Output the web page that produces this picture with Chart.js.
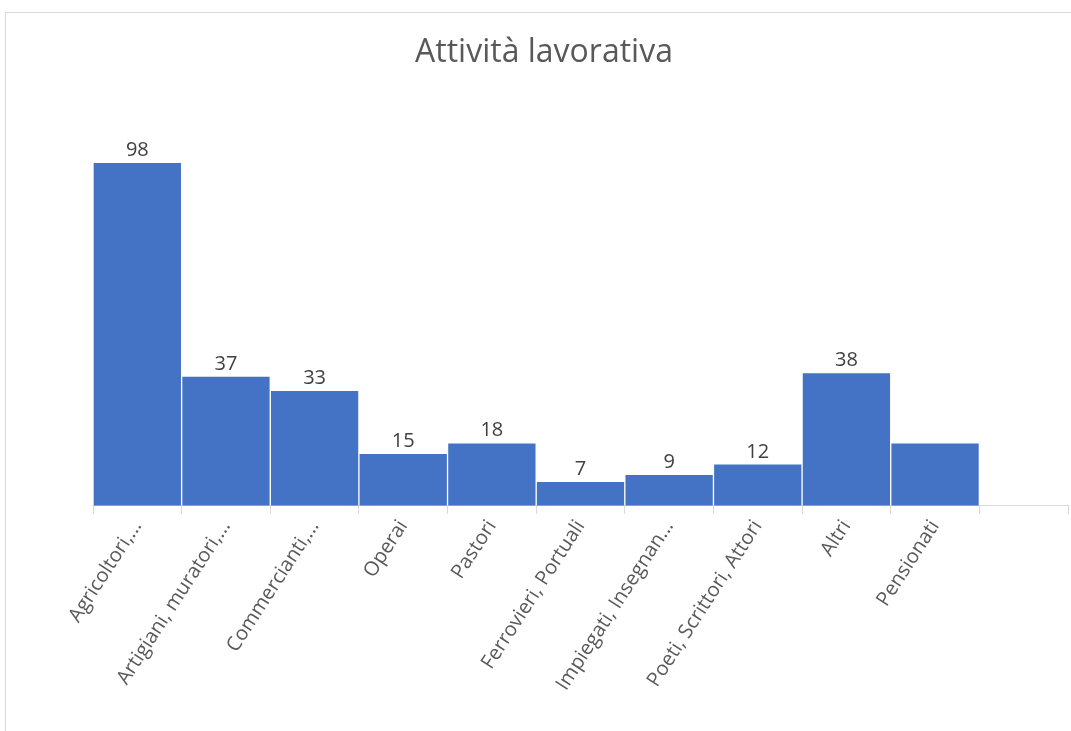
<!DOCTYPE html>
<html>
<head>
<meta charset="utf-8">
<script src="https://cdn.jsdelivr.net/npm/chart.js@4.4.0/dist/chart.umd.min.js"></script>
<style>
  html, body { margin: 0; padding: 0; background: #fff; overflow: hidden; }
  #frame { position: absolute; left: 5px; top: 12px; width: 1100px; height: 740px; border: 1px solid #d9d9d9; }
  #wrap { position: absolute; left: 0; top: 0; width: 1071px; height: 731px; }
</style>
</head>
<body>
<div id="frame"></div>
<div id="wrap"><canvas id="jobChart"></canvas></div>
<script>
const categories = [
  "Agricoltori,...",
  "Artigiani, muratori,...",
  "Commercianti,...",
  "Operai",
  "Pastori",
  "Ferrovieri, Portuali",
  "Impiegati, Insegnan...",
  "Poeti, Scrittori, Attori",
  "Altri",
  "Pensionati",
  ""
];
const counts = [98, 37, 33, 15, 18, 7, 9, 12, 38, 18, null];
// the reference shows no number above Pensionati
const hiddenLabels = ["Pensionati"];

// draws the numbers above the bars
const valueLabels = {
  id: "valueLabels",
  afterDatasetsDraw(chart) {
    const ctx = chart.ctx;
    const meta = chart.getDatasetMeta(0);
    ctx.save();
    ctx.font = "20px 'Open Sans'";
    ctx.fillStyle = "#404040";
    ctx.textAlign = "center";
    ctx.textBaseline = "bottom";
    meta.data.forEach((bar, i) => {
      const v = counts[i];
      if (v == null || hiddenLabels.includes(categories[i])) return;
      ctx.fillText(v, bar.x, bar.y - 2);
    });
    ctx.restore();
  },
};

let jobChart = document.getElementById("jobChart").getContext("2d");
Chart.defaults.font.family = "'Open Sans', sans-serif";
Chart.defaults.color = "#595959";

let barChart = new Chart(jobChart, {
  type: "bar",
  data: {
    labels: categories,
    datasets: [
      {
        label: "Attività lavorativa",
        data: counts,
        backgroundColor: "#4472C4",
        borderColor: "rgba(255,255,255,0.22)",
        borderWidth: 1,
        barPercentage: 1,
        categoryPercentage: 1,
      },
    ],
  },
  options: {
    responsive: true,
    maintainAspectRatio: false,
    animation: false,
    layout: { padding: { left: 20, right: 3, top: 0, bottom: 34 } },
    plugins: {
      legend: { display: false },
      tooltip: { enabled: false },
      title: {
        display: true,
        text: "Attività lavorativa",
        color: "#595959",
        font: { size: 32, weight: "normal" },
        padding: { top: 34, bottom: 48 },
      },
    },
    scales: {
      x: {
        grid: {
          drawOnChartArea: false,
          drawTicks: true,
          tickLength: 8,
          color: "#d9d9d9",
        },
        border: { color: "#d9d9d9" },
        ticks: {
          autoSkip: false,
          maxRotation: 57,
          minRotation: 57,
          color: "#595959",
          font: { size: 20 },
          padding: 2,
        },
      },
      y: {
        min: 0,
        max: 110,
        grid: { display: false },
        border: { display: false },
        ticks: { display: false },
        // empty spacer so the plot starts where the reference does
        afterFit(scale) {
          scale.width = 73;
        },
      },
    },
  },
  plugins: [valueLabels],
});
</script>
</body>
</html>
